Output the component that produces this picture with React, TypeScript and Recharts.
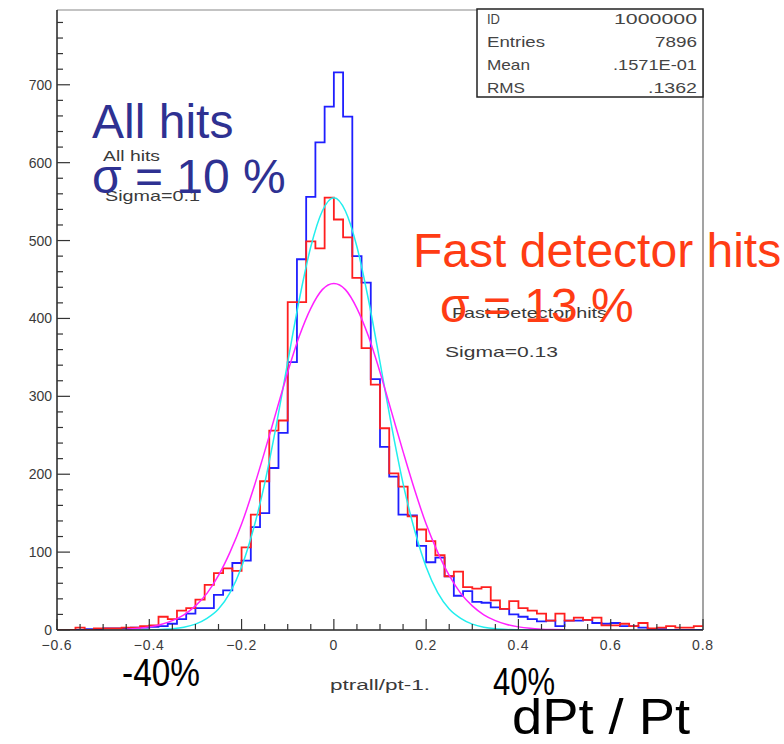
import React from 'react';
import { ComposedChart, Line, XAxis, YAxis, ReferenceLine } from 'recharts';

const W = 784;
const H = 744;
const PLOT_LEFT = 57;
const PLOT_RIGHT = 703;
const PLOT_TOP = 10;
const PLOT_BOTTOM = 630;

const X_MIN = -0.6;
const X_MAX = 0.8;
const Y_MAX = 796;
const BIN_WIDTH = 0.02;

// bin contents, 70 bins of 0.02 from -0.6 to 0.8
const allHits = [
  0, 0, 0, 1, 1, 2, 2, 2, 3, 3,
  4, 5, 8, 14, 21, 28, 28, 45, 51, 86,
  89, 132, 150, 208, 253, 344, 476, 556, 626, 672,
  716, 659, 480, 446, 322, 235, 197, 148, 147, 108,
  87, 93, 69, 44, 50, 36, 35, 29, 27, 20,
  17, 14, 11, 12, 5, 12, 12, 13, 9, 8,
  9, 5, 5, 3, 1, 1, 0, 0, 0, 0,
];
const fastHits = [
  0, 0, 3, 0, 2, 2, 2, 3, 3, 5,
  6, 17, 14, 25, 28, 39, 58, 73, 79, 76,
  106, 148, 191, 256, 269, 421, 421, 499, 490, 555,
  527, 504, 452, 362, 315, 259, 201, 184, 146, 129,
  114, 96, 69, 75, 55, 53, 55, 38, 27, 37,
  28, 25, 21, 12, 21, 12, 16, 13, 16, 6,
  6, 8, 5, 9, 2, 3, 5, 3, 3, 5,
];

// gaussian fit curves
const fitX = [
  -0.45, -0.425, -0.4, -0.375, -0.35, -0.325, -0.3, -0.275, -0.25, -0.225,
  -0.2, -0.175, -0.15, -0.125, -0.1, -0.075, -0.05, -0.025, 0, 0.025,
  0.05, 0.075, 0.1, 0.125, 0.15, 0.175, 0.2, 0.225, 0.25, 0.275,
  0.3, 0.325, 0.35, 0.375, 0.4, 0.425, 0.45, 0.475, 0.5,
];
const allHitsFit = [
  0, 0.1, 0.25, 0.6, 1.5, 3.5, 7.5, 15, 27, 48,
  81, 128, 188, 262, 344, 424, 492, 538, 555, 538,
  492, 424, 344, 262, 188, 128, 81, 48, 27, 15,
  7.5, 3.5, 1.5, 0.6, 0.25, 0.1, 0, 0, 0,
];
const fastHitsFit = [
  1.1, 2.1, 4, 7, 12, 19.5, 31, 47, 70, 100,
  136, 180, 229, 280, 331, 377, 413, 437, 445, 437,
  413, 377, 331, 280, 229, 180, 136, 100, 70, 47,
  31, 19.5, 12, 7, 4, 2.1, 1.1, 0.6, 0.3,
];

const xLabelTicks = [-0.6, -0.4, -0.2, 0, 0.2, 0.4, 0.6, 0.8];
const yLabelTicks = [0, 100, 200, 300, 400, 500, 600, 700];

const statLabels = ['ID', 'Entries', 'Mean', 'RMS'];
const statValues = ['1000000', '7896', '.1571E-01', '.1362'];

// minor ticks every 0.05 on x, every 20 on y
const xTicks = Array.from({ length: 29 }, (_, i) => Math.round((X_MIN + i * 0.05) * 100) / 100);
const yTicks = Array.from({ length: 40 }, (_, i) => i * 20);

const toRows = (vals: number[]) => {
  const rows = vals.map((n, i) => ({ x: X_MIN + i * BIN_WIDTH, n }));
  rows.push({ x: X_MAX, n: vals[vals.length - 1] });
  return rows;
};
const allRows = toRows(allHits);
const fastRows = toRows(fastHits);
const allFitRows = fitX.map((x, i) => ({ x, n: allHitsFit[i] }));
const fastFitRows = fitX.map((x, i) => ({ x, n: fastHitsFit[i] }));

const labelFont = "'Liberation Sans', Arial, sans-serif";
const grey = '#3a3a3a';

const fmt = (v: number) => {
  if (Math.abs(v) < 1e-9) return '0';
  return (v < 0 ? '\u2212' : '') + Math.abs(v).toFixed(1);
};

// wide, thin PAW-style label stretched to the width it has in the picture
const Wide = ({ x, y, w, children, size = 15, fill = grey }: any) => (
  <text x={x} y={y} fontSize={size} fontFamily={labelFont} fill={fill} textLength={w} lengthAdjust="spacingAndGlyphs">
    {children}
  </text>
);

const XTick = (props: any) => {
  const { x, payload } = props;
  const v = payload.value as number;
  const major = xLabelTicks.some((t) => Math.abs(t - v) < 1e-6);
  return (
    <g>
      <line x1={x} x2={x} y1={PLOT_BOTTOM} y2={PLOT_BOTTOM - (major ? 11 : 6)} stroke="#333" strokeWidth={1.2} />
      {major && (
        <text x={x} y={PLOT_BOTTOM + 20} textAnchor="middle" fontSize={14} fontFamily={labelFont} fill={grey} letterSpacing={0.8}>
          {fmt(v)}
        </text>
      )}
    </g>
  );
};

const YTick = (props: any) => {
  const { y, payload } = props;
  const v = payload.value as number;
  const major = yLabelTicks.includes(v);
  return (
    <g>
      <line x1={PLOT_LEFT} x2={PLOT_LEFT + (major ? 13 : 6)} y1={y} y2={y} stroke="#333" strokeWidth={1.2} />
      {major && (
        <text x={PLOT_LEFT - 5} y={y + 5} textAnchor="end" fontSize={14} fontFamily={labelFont} fill={grey}>
          {v}
        </text>
      )}
    </g>
  );
};

const statLabelW = [13, 58, 43, 38];
const statValueW = [83, 42, 84, 49];

function Overlay() {
  return (
    <svg width={W} height={H} style={{ position: 'absolute', left: 0, top: 0, pointerEvents: 'none' }}>
      <rect x={477} y={9} width={226} height={88} fill="#fff" stroke="#222" strokeWidth={1.5} />
      {statLabels.map((k, i) => (
        <g key={k}>
          <Wide x={487} y={24 + i * 23} w={statLabelW[i]} fill="#444">{k}</Wide>
          <Wide x={697 - statValueW[i]} y={24 + i * 23} w={statValueW[i]} fill="#444">{statValues[i]}</Wide>
        </g>
      ))}

      <Wide x={103} y={161} w={57}>All hits</Wide>
      <Wide x={105} y={201} w={95}>Sigma=0.1</Wide>
      <Wide x={452} y={318} w={155}>Fast Detector hits</Wide>
      <Wide x={445} y={357} w={113}>Sigma=0.13</Wide>
      <Wide x={330} y={690} w={100} size={14}>ptrall/pt-1.</Wide>

      <g fontFamily={labelFont} fontSize={48} fill="#2e3192">
        <text x={92} y={138}>All hits</text>
        <text x={92} y={193}>σ = 10 %</text>
      </g>
      <g fontFamily={labelFont} fontSize={48} fill="#ff3c14">
        <text x={413} y={267}>Fast detector hits</text>
        <text x={440} y={322}>σ = 13 %</text>
      </g>

      <g fontFamily={labelFont} fill="#000">
        <text x={122} y={686} fontSize={38} textLength={78} lengthAdjust="spacingAndGlyphs">-40%</text>
        <text x={493} y={695} fontSize={38} textLength={62} lengthAdjust="spacingAndGlyphs">40%</text>
        <text x={512} y={734} fontSize={50} textLength={178} lengthAdjust="spacingAndGlyphs">dPt / Pt</text>
      </g>
    </svg>
  );
}

export default function App() {
  return (
    <div style={{ position: 'absolute', left: 0, top: 0, width: W, height: H, background: '#fff' }}>
      <ComposedChart
        width={W}
        height={H}
        margin={{ top: PLOT_TOP, right: W - PLOT_RIGHT, bottom: H - PLOT_BOTTOM - 30, left: 0 }}
      >
        <XAxis
          dataKey="x"
          type="number"
          domain={[X_MIN, X_MAX]}
          ticks={xTicks}
          interval={0}
          allowDataOverflow
          height={30}
          tickLine={false}
          tick={<XTick />}
          axisLine={{ stroke: '#222', strokeWidth: 1.5 }}
        />
        <YAxis
          type="number"
          domain={[0, Y_MAX]}
          ticks={yTicks}
          interval={0}
          allowDataOverflow
          width={PLOT_LEFT}
          tickLine={false}
          tick={<YTick />}
          axisLine={{ stroke: '#222', strokeWidth: 1.5 }}
        />
        <ReferenceLine y={Y_MAX} stroke="#888" strokeWidth={1.2} />
        <ReferenceLine x={X_MAX} stroke="#666" strokeWidth={1.2} />

        <Line data={allRows} dataKey="n" type="stepAfter" stroke="#1f1fff" strokeWidth={1.8} dot={false} activeDot={false} isAnimationActive={false} />
        <Line data={fastRows} dataKey="n" type="stepAfter" stroke="#ff1f1f" strokeWidth={1.8} dot={false} activeDot={false} isAnimationActive={false} />
        <Line data={allFitRows} dataKey="n" type="monotone" stroke="#22eeee" strokeWidth={1.5} dot={false} activeDot={false} isAnimationActive={false} />
        <Line data={fastFitRows} dataKey="n" type="monotone" stroke="#ff22ff" strokeWidth={1.5} dot={false} activeDot={false} isAnimationActive={false} />
      </ComposedChart>
      <Overlay />
    </div>
  );
}
